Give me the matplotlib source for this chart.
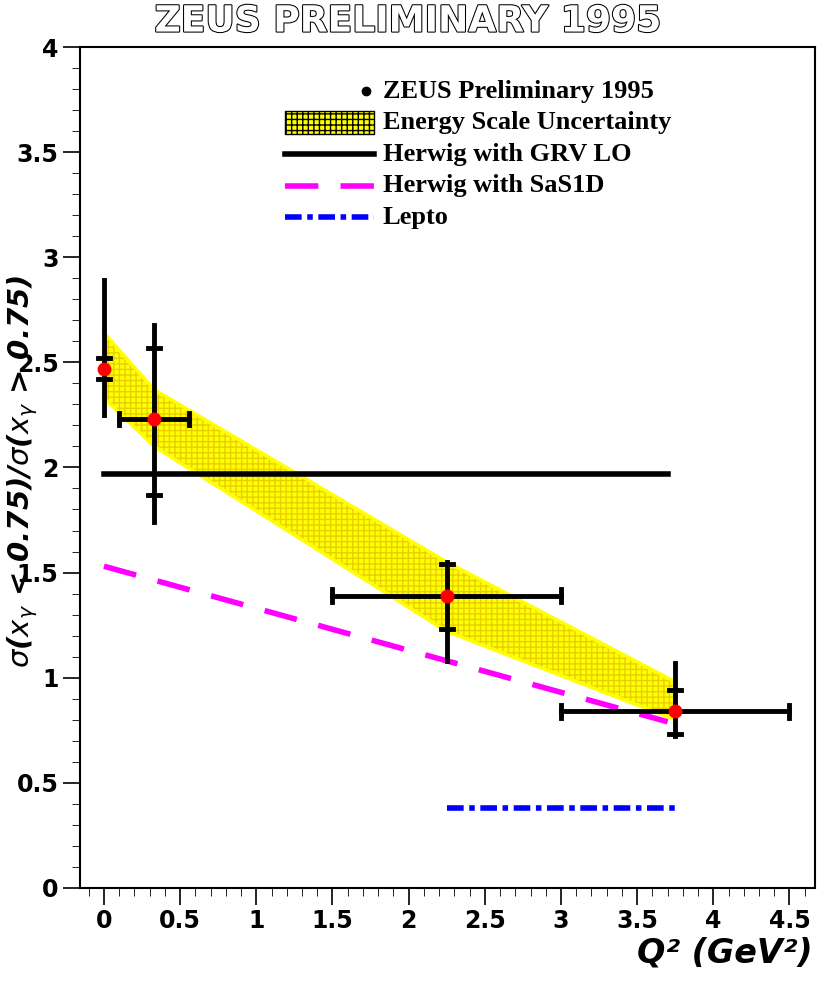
import matplotlib
matplotlib.use("Agg")
import matplotlib.pyplot as plt
import matplotlib.patheffects as pe
from matplotlib.ticker import MultipleLocator

x = [0.0, 0.33, 2.25, 3.75]
y = [2.47, 2.23, 1.39, 0.84]
xlo = [0.0, 0.1, 1.5, 3.0]
xhi = [0.0, 0.56, 3.0, 4.5]
tot_lo = [2.25, 1.74, 1.08, 0.72]
tot_hi = [2.89, 2.68, 1.55, 1.07]
stat_lo = [2.42, 1.87, 1.23, 0.73]
stat_hi = [2.52, 2.57, 1.54, 0.94]
band_x = [0.0, 0.33, 2.25, 3.75]
band_lo = [2.33, 2.10, 1.22, 0.80]
band_hi = [2.64, 2.37, 1.55, 0.98]
grv_x = [0.0, 3.7]
grv_y = [1.97, 1.97]
sas_x = [0.0, 3.7]
sas_y = [1.53, 0.79]
lepto_x = [2.25, 3.75]
lepto_y = [0.38, 0.38]

plt.rcParams["hatch.color"] = "#e8d000"
fig = plt.figure(figsize=(8.17, 9.81), dpi=100)
ax = fig.add_axes([0.098, 0.095, 0.9, 0.857])
ax.set_xlim(-0.157, 4.67)
ax.set_ylim(0, 4)

ax.fill_between(band_x, band_lo, band_hi, facecolor="#ffff00",
                hatch="+++", linewidth=0, zorder=1)
ax.plot(band_x, band_lo, color="#ffff00", lw=2.5, zorder=2)
ax.plot(band_x, band_hi, color="#ffff00", lw=2.5, zorder=2)
ax.plot(grv_x, grv_y, color="black", lw=4, zorder=3)
ax.plot(sas_x, sas_y, color="#ff00ff", lw=4, dashes=(6, 4), zorder=3)
ax.plot(lepto_x, lepto_y, color="#0000ff", lw=4, dashes=(3, 1, 1, 1), zorder=3)

for i in range(len(x)):
    ax.plot([x[i], x[i]], [tot_lo[i], tot_hi[i]], color="black", lw=3.5, zorder=4)
    if xhi[i] > xlo[i]:
        ax.plot([xlo[i], xhi[i]], [y[i], y[i]], color="black", lw=3.5, zorder=4)
        for xe in (xlo[i], xhi[i]):
            ax.plot([xe, xe], [y[i] - 0.03, y[i] + 0.03], color="black", lw=3.5, zorder=4)
    for ye in (stat_lo[i], stat_hi[i]):
        ax.plot([x[i] - 0.04, x[i] + 0.04], [ye, ye], color="black", lw=3.5, zorder=4)
ax.plot(x, y, "o", color="red", ms=9, zorder=5)

ax.set_xticks([0, 0.5, 1, 1.5, 2, 2.5, 3, 3.5, 4, 4.5])
ax.set_xticklabels(["0", "0.5", "1", "1.5", "2", "2.5", "3", "3.5", "4", "4.5"])
ax.set_yticks([0, 0.5, 1, 1.5, 2, 2.5, 3, 3.5, 4])
ax.set_yticklabels(["0", "0.5", "1", "1.5", "2", "2.5", "3", "3.5", "4"])
ax.xaxis.set_minor_locator(MultipleLocator(0.1))
ax.yaxis.set_minor_locator(MultipleLocator(0.1))
ax.tick_params(which="major", length=12, width=1.2, labelsize=17)
ax.tick_params(which="minor", length=6)
for lab in ax.get_xticklabels() + ax.get_yticklabels():
    lab.set_fontweight("bold")
for s in ax.spines.values():
    s.set_linewidth(1.5)

fig.text(0.995, 0.012, "Q² (GeV²)", ha="right", va="bottom", fontsize=24,
         fontweight="bold", style="italic")
fig.text(0.006, 0.52,
         r"$\sigma$($\boldsymbol{x_\gamma}$ < 0.75)/$\sigma$($\boldsymbol{x_\gamma}$ > 0.75)",
         rotation=90, ha="left", va="center", fontsize=21, fontweight="bold", style="italic")

# legend
lx0, lx1, lxt = 1.19, 1.77, 1.83
rows = [3.79, 3.64, 3.49, 3.34, 3.19]
ax.plot([1.72], [rows[0]], "o", color="black", ms=6)
ax.fill_between([lx0, lx1], rows[1] - 0.055, rows[1] + 0.055, facecolor="#ffff00",
                edgecolor="black", hatch="+++", linewidth=1)
ax.plot([lx0, lx1], [rows[2]] * 2, color="black", lw=4)
ax.plot([lx0, lx1], [rows[3]] * 2, color="#ff00ff", lw=4, dashes=(6, 4))
ax.plot([lx0, lx1], [rows[4]] * 2, color="#0000ff", lw=4, dashes=(3, 1, 1, 1))
labels = ["ZEUS Preliminary 1995", "Energy Scale Uncertainty", "Herwig with GRV LO",
          "Herwig with SaS1D", "Lepto"]
for r, t in zip(rows, labels):
    ax.text(lxt, r, t, fontsize=19, fontweight="bold", family="Liberation Serif", va="center")

fig.text(0.5, 0.978, "ZEUS PRELIMINARY 1995", ha="center", va="center", fontsize=26,
         color="white", fontweight="bold",
         path_effects=[pe.withStroke(linewidth=1.5, foreground="black")])

fig.savefig("out.png", dpi=100)
